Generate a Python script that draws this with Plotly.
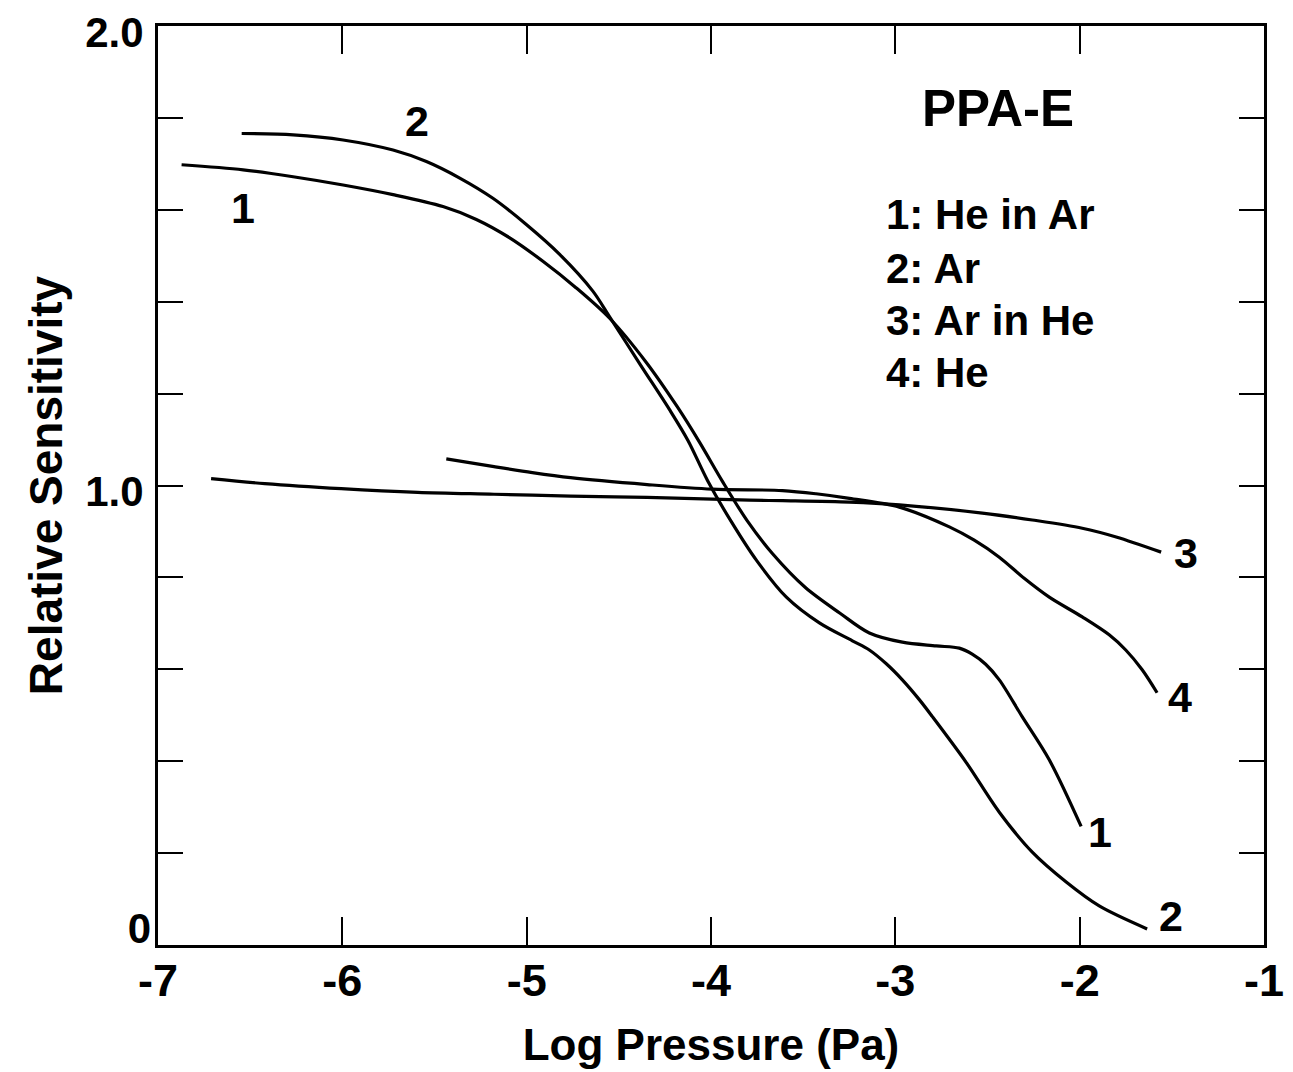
import plotly.graph_objects as go

# ---- data ----
x1 = [-6.872, -6.538, -6.267, -5.996, -5.725, -5.454, -5.273, -5.092, -4.912, -4.731,
      -4.550, -4.355, -4.184, -4.065, -3.938, -3.803, -3.667, -3.488, -3.300, -3.141,
      -2.962, -2.778, -2.653, -2.583, -2.510, -2.436, -2.312, -2.165, -1.992]
y1 = [1.698, 1.687, 1.672, 1.654, 1.633, 1.607, 1.579, 1.539, 1.488, 1.430,
      1.364, 1.270, 1.172, 1.096, 1.009, 0.923, 0.852, 0.778, 0.722, 0.679,
      0.659, 0.651, 0.646, 0.633, 0.611, 0.577, 0.497, 0.403, 0.258]

x2 = [-6.546, -6.267, -5.996, -5.725, -5.544, -5.363, -5.183, -5.002, -4.821, -4.641,
      -4.550, -4.382, -4.225, -4.125, -4.019, -3.894, -3.753, -3.591, -3.412, -3.233,
      -3.141, -3.049, -2.962, -2.870, -2.799, -2.615, -2.436, -2.257, -2.073, -1.894,
      -1.634]
y2 = [1.766, 1.763, 1.752, 1.730, 1.705, 1.669, 1.625, 1.568, 1.503, 1.423,
      1.367, 1.262, 1.165, 1.098, 1.011, 0.924, 0.837, 0.757, 0.701, 0.662,
      0.642, 0.612, 0.577, 0.534, 0.497, 0.397, 0.289, 0.202, 0.137, 0.085,
      0.035]

x3 = [-6.712, -6.421, -6.006, -5.591, -5.177, -4.762, -4.347, -3.791, -3.612, -3.249,
      -2.978, -2.528, -2.257, -1.986, -1.802, -1.558]
y3 = [1.015, 1.004, 0.993, 0.985, 0.981, 0.977, 0.974, 0.968, 0.967, 0.964,
      0.958, 0.940, 0.925, 0.907, 0.888, 0.855]

x4 = [-5.436, -5.177, -4.969, -4.762, -4.347, -3.994, -3.612, -3.430, -3.249, -2.978,
      -2.707, -2.572, -2.436, -2.301, -2.165, -1.986, -1.840, -1.750, -1.661, -1.580]
y4 = [1.058, 1.041, 1.028, 1.017, 1.002, 0.992, 0.989, 0.982, 0.972, 0.953,
      0.910, 0.881, 0.844, 0.798, 0.757, 0.714, 0.675, 0.642, 0.599, 0.549]

series = [("He in Ar", x1, y1), ("Ar", x2, y2), ("Ar in He", x3, y3), ("He", x4, y4)]

# curve number labels: (text, x, y)
curve_labels = [("1", -6.539, 1.605), ("2", -5.596, 1.794), ("3", -1.423, 0.853),
                ("4", -1.455, 0.540), ("1", -1.889, 0.247), ("2", -1.504, 0.063)]

legend_lines = ["1: He in Ar", "2: Ar", "3: Ar in He", "4: He"]
legend_y = [1.590, 1.473, 1.360, 1.245]

x_ticks = [-7, -6, -5, -4, -3, -2, -1]
y_ticks = [0, 0.2, 0.4, 0.6, 0.8, 1.0, 1.2, 1.4, 1.6, 1.8, 2.0]
y_ticktext = ["", "", "", "", "", "1.0", "", "", "", "", "2.0"]
y_zero_tick = [0]
y_zero_text = ["0"]

FONT = "Liberation Sans, Arial, Helvetica, sans-serif"

fig = go.Figure()
for name, xs, ys in series:
    fig.add_trace(go.Scatter(x=xs, y=ys, mode="lines", name=name,
                             line=dict(color="black", width=3.2, shape="spline", smoothing=0.9),
                             showlegend=False))
# empty trace so the overlaid axis carrying the "0" label is drawn
fig.add_trace(go.Scatter(x=[], y=[], yaxis="y2", showlegend=False, hoverinfo="skip"))

for t, xv, yv in curve_labels:
    fig.add_annotation(x=xv, y=yv, text=f"<b>{t}</b>", showarrow=False,
                       font=dict(family=FONT, size=43, color="black"))

fig.add_annotation(x=-2.442, y=1.82, text="<b>PPA-E</b>", showarrow=False,
                   font=dict(family=FONT, size=51, color="black"))
for t, yv in zip(legend_lines, legend_y):
    fig.add_annotation(x=-3.060, y=yv, text=f"<b>{t}</b>", showarrow=False,
                       xanchor="left", font=dict(family=FONT, size=42, color="black"))

fig.update_xaxes(range=[-7, -1], tickvals=x_ticks, ticktext=[f"<b>{v}</b>" for v in x_ticks],
                 ticks="inside", ticklen=28, tickwidth=2, tickcolor="black",
                 showline=True, linecolor="black", linewidth=3, mirror="ticks",
                 showgrid=False, zeroline=False, automargin=False,
                 ticklabeloverflow="allow", ticklabelstandoff=-6,
                 tickfont=dict(family=FONT, size=45, color="black"),
                 title=dict(text="<b>Log Pressure (Pa)</b>", standoff=25,
                            font=dict(family=FONT, size=44, color="black")))
fig.update_layout(
    yaxis=dict(range=[0, 2.0], tickvals=y_ticks,
               ticktext=[f"<b>{t}</b>" if t else "" for t in y_ticktext],
               ticks="inside", ticklen=25, tickwidth=2, tickcolor="black",
               showline=True, linecolor="black", linewidth=3, mirror="ticks",
               showgrid=False, zeroline=False, automargin=False,
               ticklabeloverflow="allow", ticklabelshift=6, ticklabelstandoff=3,
               tickfont=dict(family=FONT, size=42, color="black"),
               title=dict(text="<b>Relative Sensitivity</b>", standoff=9,
                          font=dict(family=FONT, size=46, color="black"))),
    yaxis2=dict(range=[0, 2.0], overlaying="y", side="left", anchor="x",
                tickvals=y_zero_tick, ticktext=[f"<b>{t}</b>" for t in y_zero_text],
                ticks="", showline=False, showgrid=False, zeroline=False,
                automargin=False, ticklabeloverflow="allow",
                ticklabelshift=-17, ticklabelstandoff=6,
                tickfont=dict(family=FONT, size=42, color="black")),
)

fig.update_layout(width=1293, height=1072, plot_bgcolor="white", paper_bgcolor="white",
                  margin=dict(l=150, r=37, t=18, b=135), showlegend=False)

fig.write_html("out.html")
